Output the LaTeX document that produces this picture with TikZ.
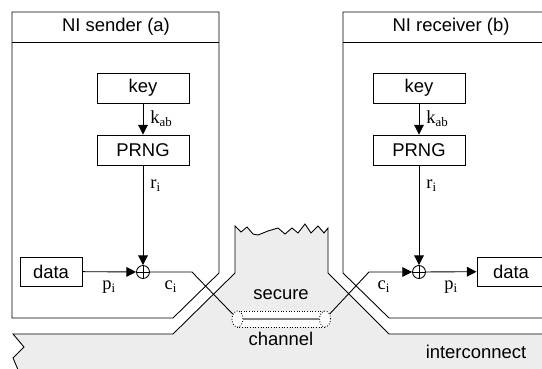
\documentclass[tikz,border=0pt]{standalone}
\usepackage{fontspec}
\setmainfont{Liberation Sans}
\newfontfamily\lblfont{Liberation Serif}
\usetikzlibrary{arrows.meta,shapes.geometric}

\begin{document}
\begin{tikzpicture}[x=0.02cm, y=-0.02cm, >={Triangle[length=5.5pt,width=5.5pt]}, font=\fontsize{10.5}{12}\selectfont, line width=0.5pt]
		\tikzset{box/.style={draw, minimum width=1.84cm, minimum height=0.6cm, inner sep=0pt},
			xor/.style={draw, circle, minimum size=0.26cm, inner sep=0pt, path picture={\draw (path picture bounding box.north) -- (path picture bounding box.south) (path picture bounding box.west) -- (path picture bounding box.east);}},
			lbl/.style={font=\lblfont\fontsize{10.5}{12}\selectfont, inner sep=1pt},
			chanend/.style={draw, densely dotted, ellipse, fill=white, minimum width=0.22cm, minimum height=0.32cm, inner sep=0pt}}
		\clip (0,0) rectangle (542,369);
		% interconnect
		\fill[black!7] (13,334) -- (173,334) -- (235,273) -- (235,226) -- (241,232) -- (247,227) -- (253,234) -- (258,235) -- (268,231) -- (278,228) -- (285,234) -- (292,228) -- (298,233) -- (305,224) -- (311,233) -- (318,226) -- (324,233) -- (328,228) -- (328,273) -- (389,334) -- (545,334) -- (545,372) -- (19,372) -- (13,358) -- (24,347) -- cycle;
		\draw (545,334) -- (389,334) -- (328,273) -- (328,228) -- (324,233) -- (318,226) -- (311,233) -- (305,224) -- (298,233) -- (292,228) -- (285,234) -- (278,228) -- (268,231) -- (258,235) -- (253,234) -- (247,227) -- (241,232) -- (235,226) -- (235,273) -- (173,334) -- (13,334) -- (24,347) -- (13,358) -- (19,372);
		\node (secure) at (281,295) {secure};
		\node (channel) at (281,339) {channel};
		\node (ic) at (476,352) {interconnect};
		% secure channel
		\draw[densely dotted, fill=white] (237,311) rectangle (325,327);
		\node[chanend] (chanL) at (237.5,319) {};
		\node[chanend] (chanR) at (325,319) {};
		\draw[double=gray, double distance=0.8pt, line width=0.4pt] (chanL) -- (chanR);
		% sender
		\draw (12,12) -| (219,273) -- (173,318) -- (12,318) -- cycle;
		\draw (12,42) -- (219,42);
		\node (sndTitle) at (116,27) {NI sender (a)};
		\node[box] (keyA) at (143,88) {key};
		\node[box] (prngA) at (143,150) {PRNG};
		\node[xor] (xorA) at (143,272) {};
		\node[box, minimum width=1.24cm, minimum height=0.58cm] (dataA) at (51,271.5) {data};
		\draw[->] (keyA) -- node[lbl, right=3pt] (kabA) {k\textsubscript{ab}} (prngA);
		\draw[->] (prngA) -- node[lbl, right=3pt, pos=0.2] (riA) {r\textsubscript{i}} (xorA);
		\draw[->] (dataA) -- node[lbl, below=4pt] (piA) {p\textsubscript{i}} (xorA);
		\coordinate (bendA) at (192,272);
		\draw (xorA) -- node[lbl, below=4pt] (ciA) {c\textsubscript{i}} (bendA) -- (chanL);
		% receiver
		\draw (545,12) -- (343,12) -- (343,273) -- (389,318) -- (545,318);
		\draw (343,42) -- (545,42);
		\node (rcvTitle) at (451,27) {NI receiver (b)};
		\node[box] (keyB) at (419,88) {key};
		\node[box] (prngB) at (419,150) {PRNG};
		\node[xor] (xorB) at (419,272) {};
		\node[box, minimum width=1.36cm, minimum height=0.58cm] (dataB) at (511,271.5) {data};
		\draw[->] (keyB) -- node[lbl, right=3pt] (kabB) {k\textsubscript{ab}} (prngB);
		\draw[->] (prngB) -- node[lbl, right=3pt, pos=0.2] (riB) {r\textsubscript{i}} (xorB);
		\coordinate (bendB) at (369,272);
		\draw[->] (chanR) -- (bendB) -- node[lbl, below=4pt, pos=0.35] (ciB) {c\textsubscript{i}} (xorB);
		\draw[->] (xorB) -- node[lbl, below=4pt] (piB) {p\textsubscript{i}} (dataB);
	\end{tikzpicture}
\end{document}
